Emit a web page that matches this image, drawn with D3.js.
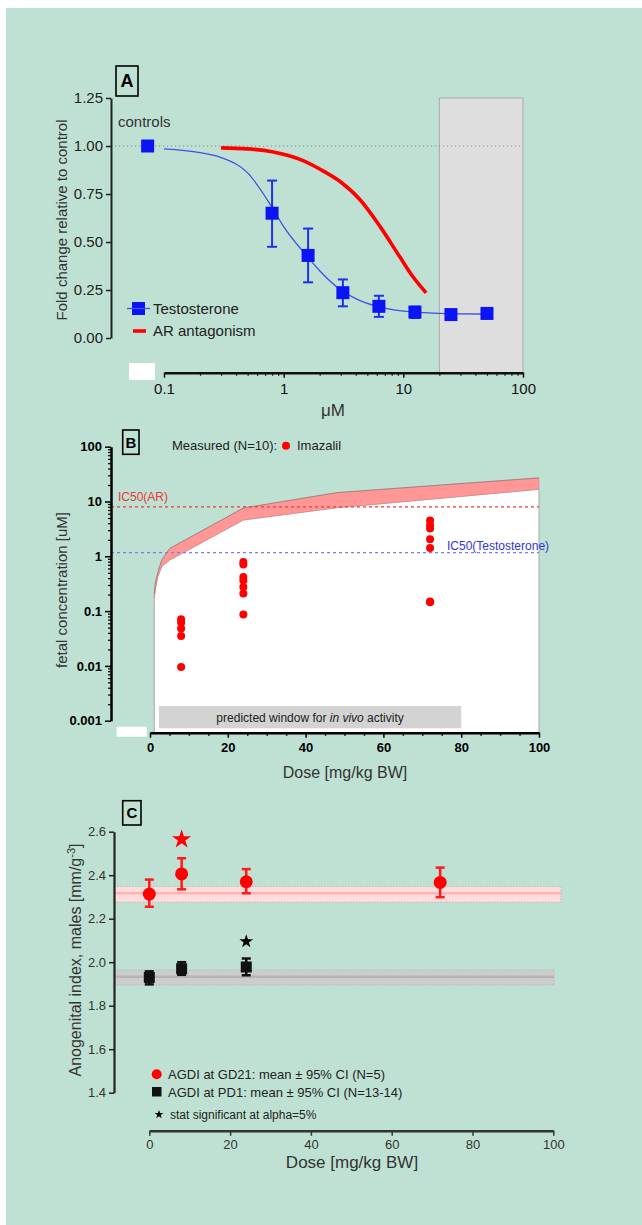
<!DOCTYPE html>
<html>
<head>
<meta charset="utf-8">
<script src="https://cdn.jsdelivr.net/npm/d3@7"></script>
<style>
body { margin: 0; background: #fff; }
text { font-family: "Liberation Sans", Arial, sans-serif; }
</style>
</head>
<body>
<svg width="642" height="1225"></svg>
<script>
// ---- panel A data (uM, fold change) ----
var controlDose = 0.073, controlMean = 1.0;
var testoDose = [0.8, 1.6, 3.125, 6.25, 12.5, 25, 50];
var testoMean = [0.65, 0.43, 0.236, 0.165, 0.135, 0.122, 0.128];
var testoLow  = [0.475, 0.29, 0.165, 0.11, 0.104, null, null];
var testoHigh = [0.82, 0.57, 0.305, 0.22, 0.163, null, null];
var testoFitX = [0.1, 0.2, 0.3, 0.5, 0.8, 1.0, 1.6, 2.0, 3.0, 4.0, 6.0, 10, 15, 25, 50];
var testoFitY = [0.985, 0.965, 0.94, 0.86, 0.68, 0.58, 0.42, 0.35, 0.25, 0.205, 0.165, 0.14, 0.132, 0.126, 0.125];
var arFitX = [0.3, 0.5, 0.8, 1.37, 2.0, 2.96, 4.35, 6.4, 9.4, 12, 15.5];
var arFitY = [0.99, 0.985, 0.97, 0.93, 0.88, 0.815, 0.72, 0.58, 0.42, 0.32, 0.235];
var cytotoxRange = [20, 100];
var xTicksA = [0.1, 1, 10, 100];
var yTicksA = [0, 0.25, 0.5, 0.75, 1.0, 1.25];

// ---- panel B data (mg/kg BW, uM) ----
var bandDose = [1.1, 1.4, 2.0, 3.0, 5, 24, 48, 100];
var bandLow  = [0.17, 0.26, 0.42, 0.65, 0.85, 4.6, 7.7, 16.7];
var bandHigh = [0.21, 0.34, 0.5, 0.85, 1.38, 7.6, 14.5, 27];
var imazDose = [8, 8, 8, 8, 8, 24, 24, 24, 24, 24, 24, 24, 72, 72, 72, 72, 72, 72, 72];
var imazConc = [0.071, 0.061, 0.048, 0.035, 0.0095, 0.79, 0.71, 0.42, 0.36, 0.276, 0.21, 0.087, 4.5, 3.7, 3.2, 2.04, 1.42, 0.15, 0.145];
var ic50AR = 8, ic50Testo = 1.17;
var windowRange = [2.3, 80];
var yTicksB = [0.001, 0.01, 0.1, 1, 10, 100];
var xTicksB = [0, 20, 40, 60, 80, 100];

// ---- panel C data (mg/kg BW, AGDI) ----
var gdDose = [0, 8, 24, 72];
var gdMean = [2.313, 2.406, 2.37, 2.367];
var gdLow  = [2.255, 2.335, 2.317, 2.299];
var gdHigh = [2.38, 2.478, 2.428, 2.435];
var pdDose = [0, 8, 24];
var pdMean = [1.93, 1.97, 1.978];
var pdLow  = [1.898, 1.942, 1.94];
var pdHigh = [1.958, 2.0, 2.017];
var gdBand = [2.276, 2.317, 2.348];
var pdBand = [1.895, 1.933, 1.964];
var starGD = [8, 2.565], starPD = [24, 2.095];
var yTicksC = [1.4, 1.6, 1.8, 2.0, 2.2, 2.4, 2.6];
var xTicksC = [0, 20, 40, 60, 80, 100];

var svg = d3.select("svg");
svg.append("rect").attr("x", 6).attr("y", 8).attr("width", 636).attr("height", 1217).attr("fill", "#bfe1d3");

function styleAxis(g, color, w) {
    g.select(".domain").attr("stroke", color).attr("stroke-width", w);
    g.selectAll(".tick line").attr("stroke", color).attr("stroke-width", 1.5);
    g.selectAll(".tick text").attr("fill", color).style("font-family", "'Liberation Sans', Arial, sans-serif");
}
function logMinors(lo, hi) {
    var out = [];
    for (var e = lo; e < hi; e++)
        for (var m = 2; m <= 9; m++) out.push(m * Math.pow(10, e));
    return out;
}
function panelBox(x, y, w, h, label, fs) {
    svg.append("rect").attr("x", x).attr("y", y).attr("width", w).attr("height", h)
        .attr("fill", "none").attr("stroke", "#000").attr("stroke-width", 1.6);
    svg.append("text").attr("x", x + w / 2).attr("y", y + h / 2 + fs * 0.36)
        .attr("text-anchor", "middle").attr("font-size", fs).attr("font-weight", "bold").text(label);
}

// ================= Panel A =================
var xA = d3.scaleLog().domain([0.1, 100]).range([164, 523]);
var yA = d3.scaleLinear().domain([0, 1.25]).range([338, 98]);
var axisYA = 372.7;

svg.append("rect")
    .attr("x", xA(cytotoxRange[0])).attr("y", yA(1.25))
    .attr("width", xA(cytotoxRange[1]) - xA(cytotoxRange[0]))
    .attr("height", axisYA - yA(1.25))
    .attr("fill", "#dedede").attr("stroke", "#a9a9a9").attr("stroke-width", 1);

svg.append("line").attr("x1", 111).attr("x2", xA(100)).attr("y1", yA(1)).attr("y2", yA(1))
    .attr("stroke", "#888").attr("stroke-width", 1).attr("stroke-dasharray", "1.2,2.8");

var gya = svg.append("g").attr("transform", "translate(111,0)")
    .call(d3.axisLeft(yA).tickValues(yTicksA).tickFormat(d3.format(".2f")).tickSize(5).tickSizeOuter(0));
gya.selectAll(".tick text").attr("font-size", 15);
styleAxis(gya, "#222", 2);

var gxa = svg.append("g").attr("transform", "translate(0," + axisYA + ")")
    .call(d3.axisBottom(xA).tickValues(xTicksA).tickFormat(function(d) { return d; }).tickSize(5).tickSizeOuter(0));
gxa.selectAll(".tick text").attr("font-size", 15).attr("dy", "0.9em");
styleAxis(gxa, "#111", 2.5);
var gxam = svg.append("g").attr("transform", "translate(0," + axisYA + ")")
    .call(d3.axisBottom(xA).tickValues(logMinors(-1, 2)).tickFormat("").tickSize(3).tickSizeOuter(0));
gxam.select(".domain").remove();
gxam.selectAll(".tick line").attr("stroke", "#111").attr("stroke-width", 1.2);

svg.append("rect").attr("x", 129).attr("y", 363).attr("width", 26).attr("height", 17).attr("fill", "#fff");

var lineA = d3.line().x(function(d) { return xA(d[0]); }).y(function(d) { return yA(d[1]); }).curve(d3.curveMonotoneX);
svg.append("path").datum(testoFitX.map(function(x, i) { return [x, testoFitY[i]]; }))
    .attr("d", lineA).attr("fill", "none").attr("stroke", "#3d52e6").attr("stroke-width", 1.3);
svg.append("path").datum(arFitX.map(function(x, i) { return [x, arFitY[i]]; }))
    .attr("d", lineA).attr("fill", "none").attr("stroke", "#ff0000").attr("stroke-width", 3.6);

var blue = "#0a14f5";
testoDose.forEach(function(d, i) {
    if (testoLow[i] != null) {
        var cx = xA(d);
        svg.append("line").attr("x1", cx).attr("x2", cx).attr("y1", yA(testoLow[i])).attr("y2", yA(testoHigh[i]))
            .attr("stroke", "#1f30e8").attr("stroke-width", 2);
        [testoLow[i], testoHigh[i]].forEach(function(v) {
            svg.append("line").attr("x1", cx - 5).attr("x2", cx + 5).attr("y1", yA(v)).attr("y2", yA(v))
                .attr("stroke", "#1f30e8").attr("stroke-width", 2);
        });
    }
});
svg.selectAll(".testo").data(testoDose.map(function(d, i) { return [d, testoMean[i]]; }).concat([[controlDose, controlMean]]))
    .enter().append("rect").attr("class", "testo")
    .attr("x", function(d) { return xA(d[0]) - 6.5; }).attr("y", function(d) { return yA(d[1]) - 6.5; })
    .attr("width", 13).attr("height", 13).attr("fill", blue);

svg.append("text").attr("x", 118).attr("y", 127).attr("font-size", 15).attr("fill", "#333").text("controls");
svg.append("rect").attr("x", 132).attr("y", 302).attr("width", 13).attr("height", 13).attr("fill", blue);
svg.append("line").attr("x1", 127).attr("x2", 150).attr("y1", 308.5).attr("y2", 308.5).attr("stroke", "#3d52e6").attr("stroke-width", 1.3);
svg.append("text").attr("x", 153).attr("y", 314).attr("font-size", 15).attr("fill", "#222").text("Testosterone");
svg.append("line").attr("x1", 133).attr("x2", 146).attr("y1", 331).attr("y2", 331).attr("stroke", "#ff0000").attr("stroke-width", 3.6);
svg.append("text").attr("x", 153).attr("y", 336).attr("font-size", 15).attr("fill", "#222").text("AR antagonism");

svg.append("text").attr("transform", "translate(67,220) rotate(-90)").attr("text-anchor", "middle")
    .attr("font-size", 15).attr("fill", "#333").text("Fold change relative to control");
svg.append("text").attr("x", 333).attr("y", 416).attr("text-anchor", "middle").attr("font-size", 17).attr("fill", "#333").text("μM");
panelBox(116, 66, 22, 30, "A", 18);

// ================= Panel B =================
var xB = d3.scaleLinear().domain([0, 100]).range([150, 539]);
var yB = d3.scaleLog().domain([0.001, 100]).range([720.7, 446.7]);
var axisYB = 732.7;

var bandPts = bandDose.map(function(d, i) { return { x: d, lo: bandLow[i], hi: bandHigh[i] }; });
var whiteArea = d3.area().x(function(d) { return xB(d.x); }).y0(axisYB).y1(function(d) { return yB(d.lo); });
svg.append("path").datum(bandPts).attr("d", whiteArea).attr("fill", "#fff").attr("stroke", "#999").attr("stroke-width", 0.8);
var bandArea = d3.area().x(function(d) { return xB(d.x); }).y0(function(d) { return yB(d.lo); }).y1(function(d) { return yB(d.hi); });
svg.append("path").datum(bandPts).attr("d", bandArea).attr("fill", "#ff9797").attr("stroke", "#d88080").attr("stroke-width", 0.5);
svg.append("path").datum(bandPts)
    .attr("d", d3.line().x(function(d) { return xB(d.x); }).y(function(d) { return yB(d.hi); }))
    .attr("fill", "none").attr("stroke", "#8a6a6a").attr("stroke-width", 0.6);

svg.append("line").attr("x1", 111).attr("x2", xB(100)).attr("y1", yB(ic50AR)).attr("y2", yB(ic50AR))
    .attr("stroke", "#f03a3a").attr("stroke-width", 1.3).attr("stroke-dasharray", "3,3");
svg.append("line").attr("x1", 111).attr("x2", xB(100)).attr("y1", yB(ic50Testo)).attr("y2", yB(ic50Testo))
    .attr("stroke", "#7b7bf2").attr("stroke-width", 1.3).attr("stroke-dasharray", "3,3");
svg.append("text").attr("x", 118).attr("y", 501).attr("font-size", 12).attr("fill", "#e8383a").text("IC50(AR)");
svg.append("text").attr("x", 447).attr("y", 550).attr("font-size", 12).attr("fill", "#3434d8").text("IC50(Testosterone)");

svg.append("rect").attr("x", xB(windowRange[0])).attr("y", 706).attr("width", xB(windowRange[1]) - xB(windowRange[0])).attr("height", 22.3)
    .attr("fill", "#d3d3d3");
var wt = svg.append("text").attr("x", (xB(windowRange[0]) + xB(windowRange[1])) / 2).attr("y", 721.5)
    .attr("text-anchor", "middle").attr("font-size", 12).attr("fill", "#222");
wt.append("tspan").text("predicted window for ");
wt.append("tspan").attr("font-style", "italic").text("in vivo");
wt.append("tspan").text(" activity");

svg.selectAll(".imaz").data(imazDose.map(function(d, i) { return [d, imazConc[i]]; }))
    .enter().append("circle").attr("class", "imaz")
    .attr("cx", function(d) { return xB(d[0]); }).attr("cy", function(d) { return yB(d[1]); })
    .attr("r", 4).attr("fill", "#ff0000");

var gyb = svg.append("g").attr("transform", "translate(111,0)")
    .call(d3.axisLeft(yB).tickValues(yTicksB).tickFormat(function(d) { return d; }).tickSize(6).tickSizeOuter(0));
gyb.selectAll(".tick text").attr("font-size", 13).attr("font-weight", "bold");
styleAxis(gyb, "#000", 2.5);
var gybm = svg.append("g").attr("transform", "translate(111,0)")
    .call(d3.axisLeft(yB).tickValues(logMinors(-3, 2)).tickFormat("").tickSize(3).tickSizeOuter(0));
gybm.select(".domain").remove();
gybm.selectAll(".tick line").attr("stroke", "#000").attr("stroke-width", 1.2);

var gxb = svg.append("g").attr("transform", "translate(0," + axisYB + ")")
    .call(d3.axisBottom(xB).tickValues(xTicksB).tickSize(5).tickSizeOuter(0));
gxb.selectAll(".tick text").attr("font-size", 13).attr("font-weight", "bold").attr("dy", "0.85em");
styleAxis(gxb, "#000", 2.5);
var gxbm = svg.append("g").attr("transform", "translate(0," + axisYB + ")")
    .call(d3.axisBottom(xB).tickValues(d3.range(5, 100, 5).filter(function(v) { return v % 20; })).tickFormat("").tickSize(3).tickSizeOuter(0));
gxbm.select(".domain").remove();
gxbm.selectAll(".tick line").attr("stroke", "#000").attr("stroke-width", 1.5);

svg.append("rect").attr("x", 116.7).attr("y", 726.7).attr("width", 30).attr("height", 10).attr("fill", "#fff");

svg.append("text").attr("x", 172).attr("y", 450).attr("font-size", 13).attr("fill", "#222").text("Measured (N=10):");
svg.append("circle").attr("cx", 286).attr("cy", 445.7).attr("r", 4).attr("fill", "#ff0000");
svg.append("text").attr("x", 297).attr("y", 450).attr("font-size", 13).attr("fill", "#222").text("Imazalil");
svg.append("text").attr("transform", "translate(67,590) rotate(-90)").attr("text-anchor", "middle")
    .attr("font-size", 15).attr("fill", "#333").text("fetal concentration [uM]");
svg.append("text").attr("x", 345).attr("y", 778).attr("text-anchor", "middle").attr("font-size", 16).attr("fill", "#333").text("Dose [mg/kg BW]");
panelBox(122.7, 430, 16.3, 24.3, "B", 15);

// ================= Panel C =================
var xC = d3.scaleLinear().domain([0, 100]).range([149.3, 553.3]);
var yC = d3.scaleLinear().domain([1.4, 2.6]).range([1092.7, 831.7]);
var axisYC = 1130.7, axisXC = 114;

function refBand(vals, xEnd, fill, mid) {
    svg.append("rect").attr("x", axisXC).attr("y", yC(vals[2])).attr("width", xC(xEnd) - axisXC)
        .attr("height", yC(vals[0]) - yC(vals[2]))
        .attr("fill", fill).attr("stroke", "#aaa").attr("stroke-width", 0.7).attr("stroke-dasharray", "1.5,1.5");
    svg.append("line").attr("x1", axisXC).attr("x2", xC(xEnd)).attr("y1", yC(vals[1])).attr("y2", yC(vals[1]))
        .attr("stroke", mid).attr("stroke-width", 2.5);
}
refBand(gdBand, 101.9, "#ffdcdc", "#ffb3b3");
refBand(pdBand, 100.2, "#cdcdcd", "#b5b5b5");

function errBars(dose, lo, hi, color) {
    dose.forEach(function(d, i) {
        var cx = xC(d);
        svg.append("line").attr("x1", cx).attr("x2", cx).attr("y1", yC(lo[i])).attr("y2", yC(hi[i]))
            .attr("stroke", color).attr("stroke-width", 2.5);
        [lo[i], hi[i]].forEach(function(v) {
            svg.append("line").attr("x1", cx - 4.5).attr("x2", cx + 4.5).attr("y1", yC(v)).attr("y2", yC(v))
                .attr("stroke", color).attr("stroke-width", 2.5);
        });
    });
}
errBars(gdDose, gdLow, gdHigh, "#ff1a1a");
errBars(pdDose, pdLow, pdHigh, "#111");
svg.selectAll(".gd").data(gdDose.map(function(d, i) { return [d, gdMean[i]]; }))
    .enter().append("circle").attr("class", "gd")
    .attr("cx", function(d) { return xC(d[0]); }).attr("cy", function(d) { return yC(d[1]); })
    .attr("r", 6.5).attr("fill", "#ff0000");
svg.selectAll(".pd").data(pdDose.map(function(d, i) { return [d, pdMean[i]]; }))
    .enter().append("rect").attr("class", "pd")
    .attr("x", function(d) { return xC(d[0]) - 5.5; }).attr("y", function(d) { return yC(d[1]) - 5.5; })
    .attr("width", 11).attr("height", 11).attr("fill", "#111");

var star = d3.symbol().type(d3.symbolStar);
svg.append("path").attr("d", star.size(115)()).attr("transform", "translate(" + xC(starGD[0]) + "," + yC(starGD[1]) + ")").attr("fill", "#ff0000");
svg.append("path").attr("d", star.size(58)()).attr("transform", "translate(" + xC(starPD[0]) + "," + yC(starPD[1]) + ")").attr("fill", "#000");

var gyc = svg.append("g").attr("transform", "translate(" + axisXC + ",0)")
    .call(d3.axisLeft(yC).tickValues(yTicksC).tickFormat(d3.format(".1f")).tickSize(5).tickSizeOuter(0));
gyc.selectAll(".tick text").attr("font-size", 13);
styleAxis(gyc, "#222", 2.2);
gyc.selectAll(".tick text").attr("fill", "#333");

var gxc = svg.append("g").attr("transform", "translate(0," + axisYC + ")")
    .call(d3.axisBottom(xC).tickValues(xTicksC).tickSize(5).tickSizeOuter(0));
gxc.selectAll(".tick text").attr("font-size", 13).attr("dy", "0.8em");
styleAxis(gxc, "#333", 2.5);

svg.append("circle").attr("cx", 156.7).attr("cy", 1074.3).attr("r", 5).attr("fill", "#ff0000");
svg.append("text").attr("x", 168).attr("y", 1079).attr("font-size", 13).attr("fill", "#222").text("AGDI at GD21: mean ± 95% CI (N=5)");
svg.append("rect").attr("x", 152).attr("y", 1087).attr("width", 9.5).attr("height", 9.5).attr("fill", "#111");
svg.append("text").attr("x", 168).attr("y", 1096.5).attr("font-size", 13).attr("fill", "#222").text("AGDI at PD1: mean ± 95% CI (N=13-14)");
svg.append("path").attr("d", star.size(24)()).attr("transform", "translate(159,1114.5)").attr("fill", "#000");
svg.append("text").attr("x", 170).attr("y", 1119).attr("font-size", 12).attr("fill", "#222").text("stat significant at alpha=5%");

var yt = svg.append("text").attr("transform", "translate(81,960) rotate(-90)").attr("text-anchor", "middle")
    .attr("font-size", 16).attr("fill", "#333");
yt.append("tspan").text("Anogenital index, males [mm/g");
yt.append("tspan").attr("baseline-shift", "super").attr("font-size", 11).text("-3");
yt.append("tspan").text("]");
svg.append("text").attr("x", 352).attr("y", 1168).attr("text-anchor", "middle").attr("font-size", 17).attr("fill", "#333").text("Dose [mg/kg BW]");
panelBox(122.7, 800.7, 18.3, 24.3, "C", 15);
</script>
</body>
</html>
